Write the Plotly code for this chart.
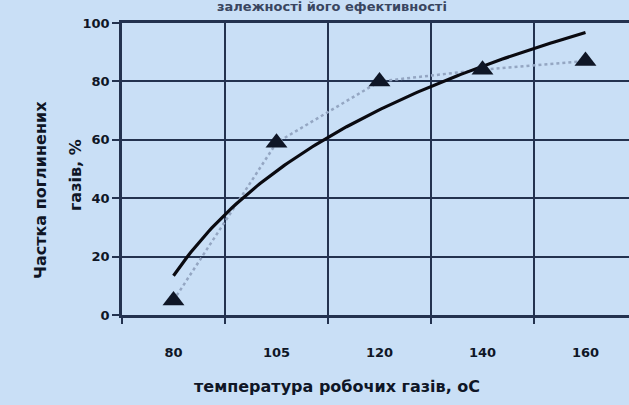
import numpy as np
import plotly.graph_objects as go

categories = ["80", "105", "120", "140", "160"]
absorbed = [5, 59, 80, 84, 87]
y_ticks = [0, 20, 40, 60, 80, 100]

x_idx = np.arange(len(categories))
# logarithmic trendline (Excel-style) fitted to the data
a, b = np.polyfit(np.log(x_idx + 1), absorbed, 1)
xs = np.linspace(0, len(categories) - 1, 120)
ys = a * np.log(xs + 1) + b

BG = "#c9dff6"
GRID = "#23324f"
INK = "#0f1626"
FONT = "DejaVu Sans"

fig = go.Figure()
fig.add_trace(go.Scatter(x=x_idx, y=absorbed, mode="lines",
                         line=dict(color="#94a6c2", width=2.5, dash="dot"),
                         showlegend=False, hoverinfo="skip"))
fig.add_trace(go.Scatter(x=xs, y=ys, mode="lines",
                         line=dict(color="#0a0a10", width=3.2),
                         showlegend=False))
fig.add_trace(go.Scatter(x=x_idx, y=absorbed, mode="markers",
                         marker=dict(symbol="triangle-up", size=19, color=INK),
                         showlegend=False))

W, H = 629, 405
L, R, T, B = 122, 0, 23, 90
plot_h = H - T - B
plot_w = W - L - R
cat_w = 103
x_range = [-0.5, -0.5 + plot_w / cat_w]

fig.update_layout(
    width=W, height=H,
    margin=dict(l=L, r=R, t=T, b=B, autoexpand=False),
    paper_bgcolor=BG, plot_bgcolor=BG,
    font=dict(family=FONT, color=INK, size=13),
    xaxis=dict(
        range=x_range,
        tickvals=list(x_idx), ticktext=categories,
        showgrid=False, ticks="", ticklabelstandoff=24,
        tickfont=dict(size=13, weight="bold", color=INK),
        showline=True, linecolor=GRID, linewidth=2.5, mirror=True,
        zeroline=False,
        minor=dict(tickvals=[i - 0.5 for i in range(len(categories) + 1)],
                   showgrid=True, gridcolor=GRID, gridwidth=2,
                   ticks="outside", ticklen=6, tickcolor=GRID, tickwidth=2),
    ),
    yaxis=dict(
        range=[0, 100], tickvals=y_ticks,
        showgrid=True, gridcolor=GRID, gridwidth=2,
        ticks="outside", ticklen=7, tickcolor=GRID, tickwidth=2,
        tickfont=dict(size=13, weight="bold", color=INK),
        showline=True, linecolor=GRID, linewidth=2.5,
        zeroline=False,
    ),
    annotations=[
        dict(text="Частка поглинених", textangle=-90,
             xref="paper", yref="paper",
             x=(40 - L) / plot_w, y=(H - B - 190) / plot_h,
             xanchor="center", yanchor="middle", showarrow=False,
             font=dict(size=16, weight="bold", color=INK)),
        dict(text="газів, %", textangle=-90,
             xref="paper", yref="paper",
             x=(75 - L) / plot_w, y=(H - B - 175) / plot_h,
             xanchor="center", yanchor="middle", showarrow=False,
             font=dict(size=16, weight="bold", color=INK)),
        dict(text="температура робочих газів, оС",
             xref="paper", yref="paper",
             x=(337 - L) / plot_w, y=(H - B - 386) / plot_h,
             xanchor="center", yanchor="middle", showarrow=False,
             font=dict(size=16, weight="bold", color=INK)),
        dict(text="залежності його ефективності",
             xref="paper", yref="paper",
             x=(332 - L) / plot_w, y=(H - B - 6) / plot_h,
             xanchor="center", yanchor="middle", showarrow=False,
             font=dict(size=13, weight="bold", color="#3a4660")),
    ],
)

fig.write_html("out.html", config={"displayModeBar": False},
               post_script="document.body.style.margin='0';")
